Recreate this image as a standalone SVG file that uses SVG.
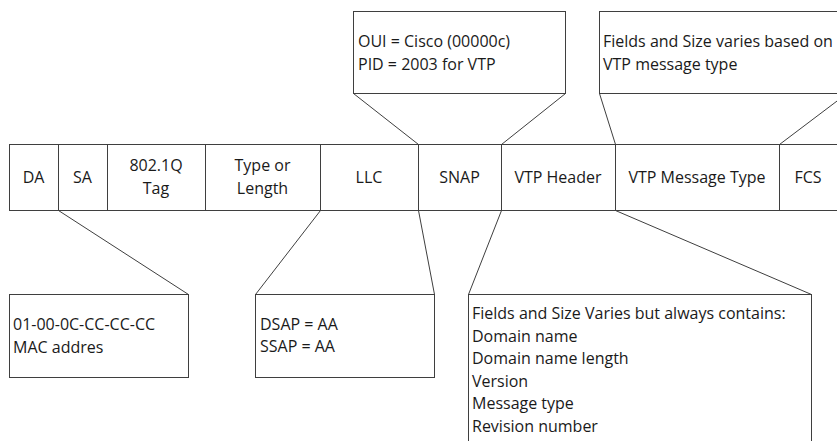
<svg xmlns="http://www.w3.org/2000/svg" width="837" height="441" viewBox="0 0 837 441">
<style>
.b{fill:#fff;stroke:#3f3f3f;stroke-width:1}
.c{fill:none;stroke:#3f3f3f;stroke-width:1}
text{font-family:"Open Sans","Noto Sans",sans-serif;font-size:16px;fill:#1a1a1a}
.m{text-anchor:middle}
</style>
<rect width="837" height="441" fill="#fff"/>
<g id="frame">
<rect class="b" x="9.5" y="144.5" width="840" height="66"/>
<g id="f-da"><text class="m" x="33.5" y="183">DA</text></g>
<g id="f-sa"><line class="c" x1="58.5" y1="144.5" x2="58.5" y2="210.5"/><text class="m" x="82.5" y="183">SA</text></g>
<g id="f-tag"><line class="c" x1="107.5" y1="144.5" x2="107.5" y2="210.5"/><text class="m" x="156" y="171">802.1Q</text><text class="m" x="156" y="193.5">Tag</text></g>
<g id="f-type"><line class="c" x1="205.5" y1="144.5" x2="205.5" y2="210.5"/><text class="m" x="262.5" y="171">Type or</text><text class="m" x="262.5" y="193.5">Length</text></g>
<g id="f-llc"><line class="c" x1="320.5" y1="144.5" x2="320.5" y2="210.5"/><text class="m" x="369" y="183">LLC</text></g>
<g id="f-snap"><line class="c" x1="418.5" y1="144.5" x2="418.5" y2="210.5"/><text class="m" x="459.5" y="183">SNAP</text></g>
<g id="f-vtph"><line class="c" x1="501.5" y1="144.5" x2="501.5" y2="210.5"/><text class="m" x="558" y="183">VTP Header</text></g>
<g id="f-vtpm"><line class="c" x1="615.5" y1="144.5" x2="615.5" y2="210.5"/><text class="m" x="697" y="183">VTP Message Type</text></g>
<g id="f-fcs"><line class="c" x1="779.5" y1="144.5" x2="779.5" y2="210.5"/><text class="m" x="808" y="183">FCS</text></g>
</g>
<g id="n-snap-info">
<rect class="b" x="353.5" y="11.5" width="212" height="82"/>
<text x="358" y="47">OUI = Cisco (00000c)</text>
<text x="358" y="70">PID = 2003 for VTP</text>
</g>
<g id="n-msg-info">
<rect class="b" x="599.5" y="11.5" width="260" height="82"/>
<text x="603" y="47">Fields and Size varies based on</text>
<text x="603" y="70">VTP message type</text>
</g>
<g id="n-mac">
<rect class="b" x="9.5" y="294.5" width="179" height="83"/>
<text x="13" y="330">01-00-0C-CC-CC-CC</text>
<text x="13" y="352.5">MAC addres</text>
</g>
<g id="n-llc-info">
<rect class="b" x="255.5" y="294.5" width="179" height="83"/>
<text x="260" y="330">DSAP = AA</text>
<text x="260" y="352">SSAP = AA</text>
</g>
<g id="n-hdr-info">
<rect class="b" x="468.5" y="294.5" width="343" height="160"/>
<text x="472" y="319">Fields and Size Varies but always contains:</text>
<text x="472" y="341.5">Domain name</text>
<text x="472" y="364">Domain name length</text>
<text x="472" y="386.5">Version</text>
<text x="472" y="409">Message type</text>
<text x="472" y="431.5">Revision number</text>
</g>
<g id="connectors">
<line class="c" x1="353.5" y1="93.5" x2="418.5" y2="144.5"/>
<line class="c" x1="565.5" y1="93.5" x2="501.5" y2="144.5"/>
<line class="c" x1="599.5" y1="93.5" x2="615.5" y2="144.5"/>
<line class="c" x1="847" y1="93.5" x2="779.5" y2="144.5"/>
<line class="c" x1="58.5" y1="210.5" x2="188.5" y2="294.5"/>
<line class="c" x1="320.5" y1="210.5" x2="255.5" y2="294.5"/>
<line class="c" x1="418.5" y1="210.5" x2="434.5" y2="294.5"/>
<line class="c" x1="501.5" y1="210.5" x2="468.5" y2="294.5"/>
<line class="c" x1="615.5" y1="210.5" x2="811.5" y2="294.5"/>
</g>
</svg>
